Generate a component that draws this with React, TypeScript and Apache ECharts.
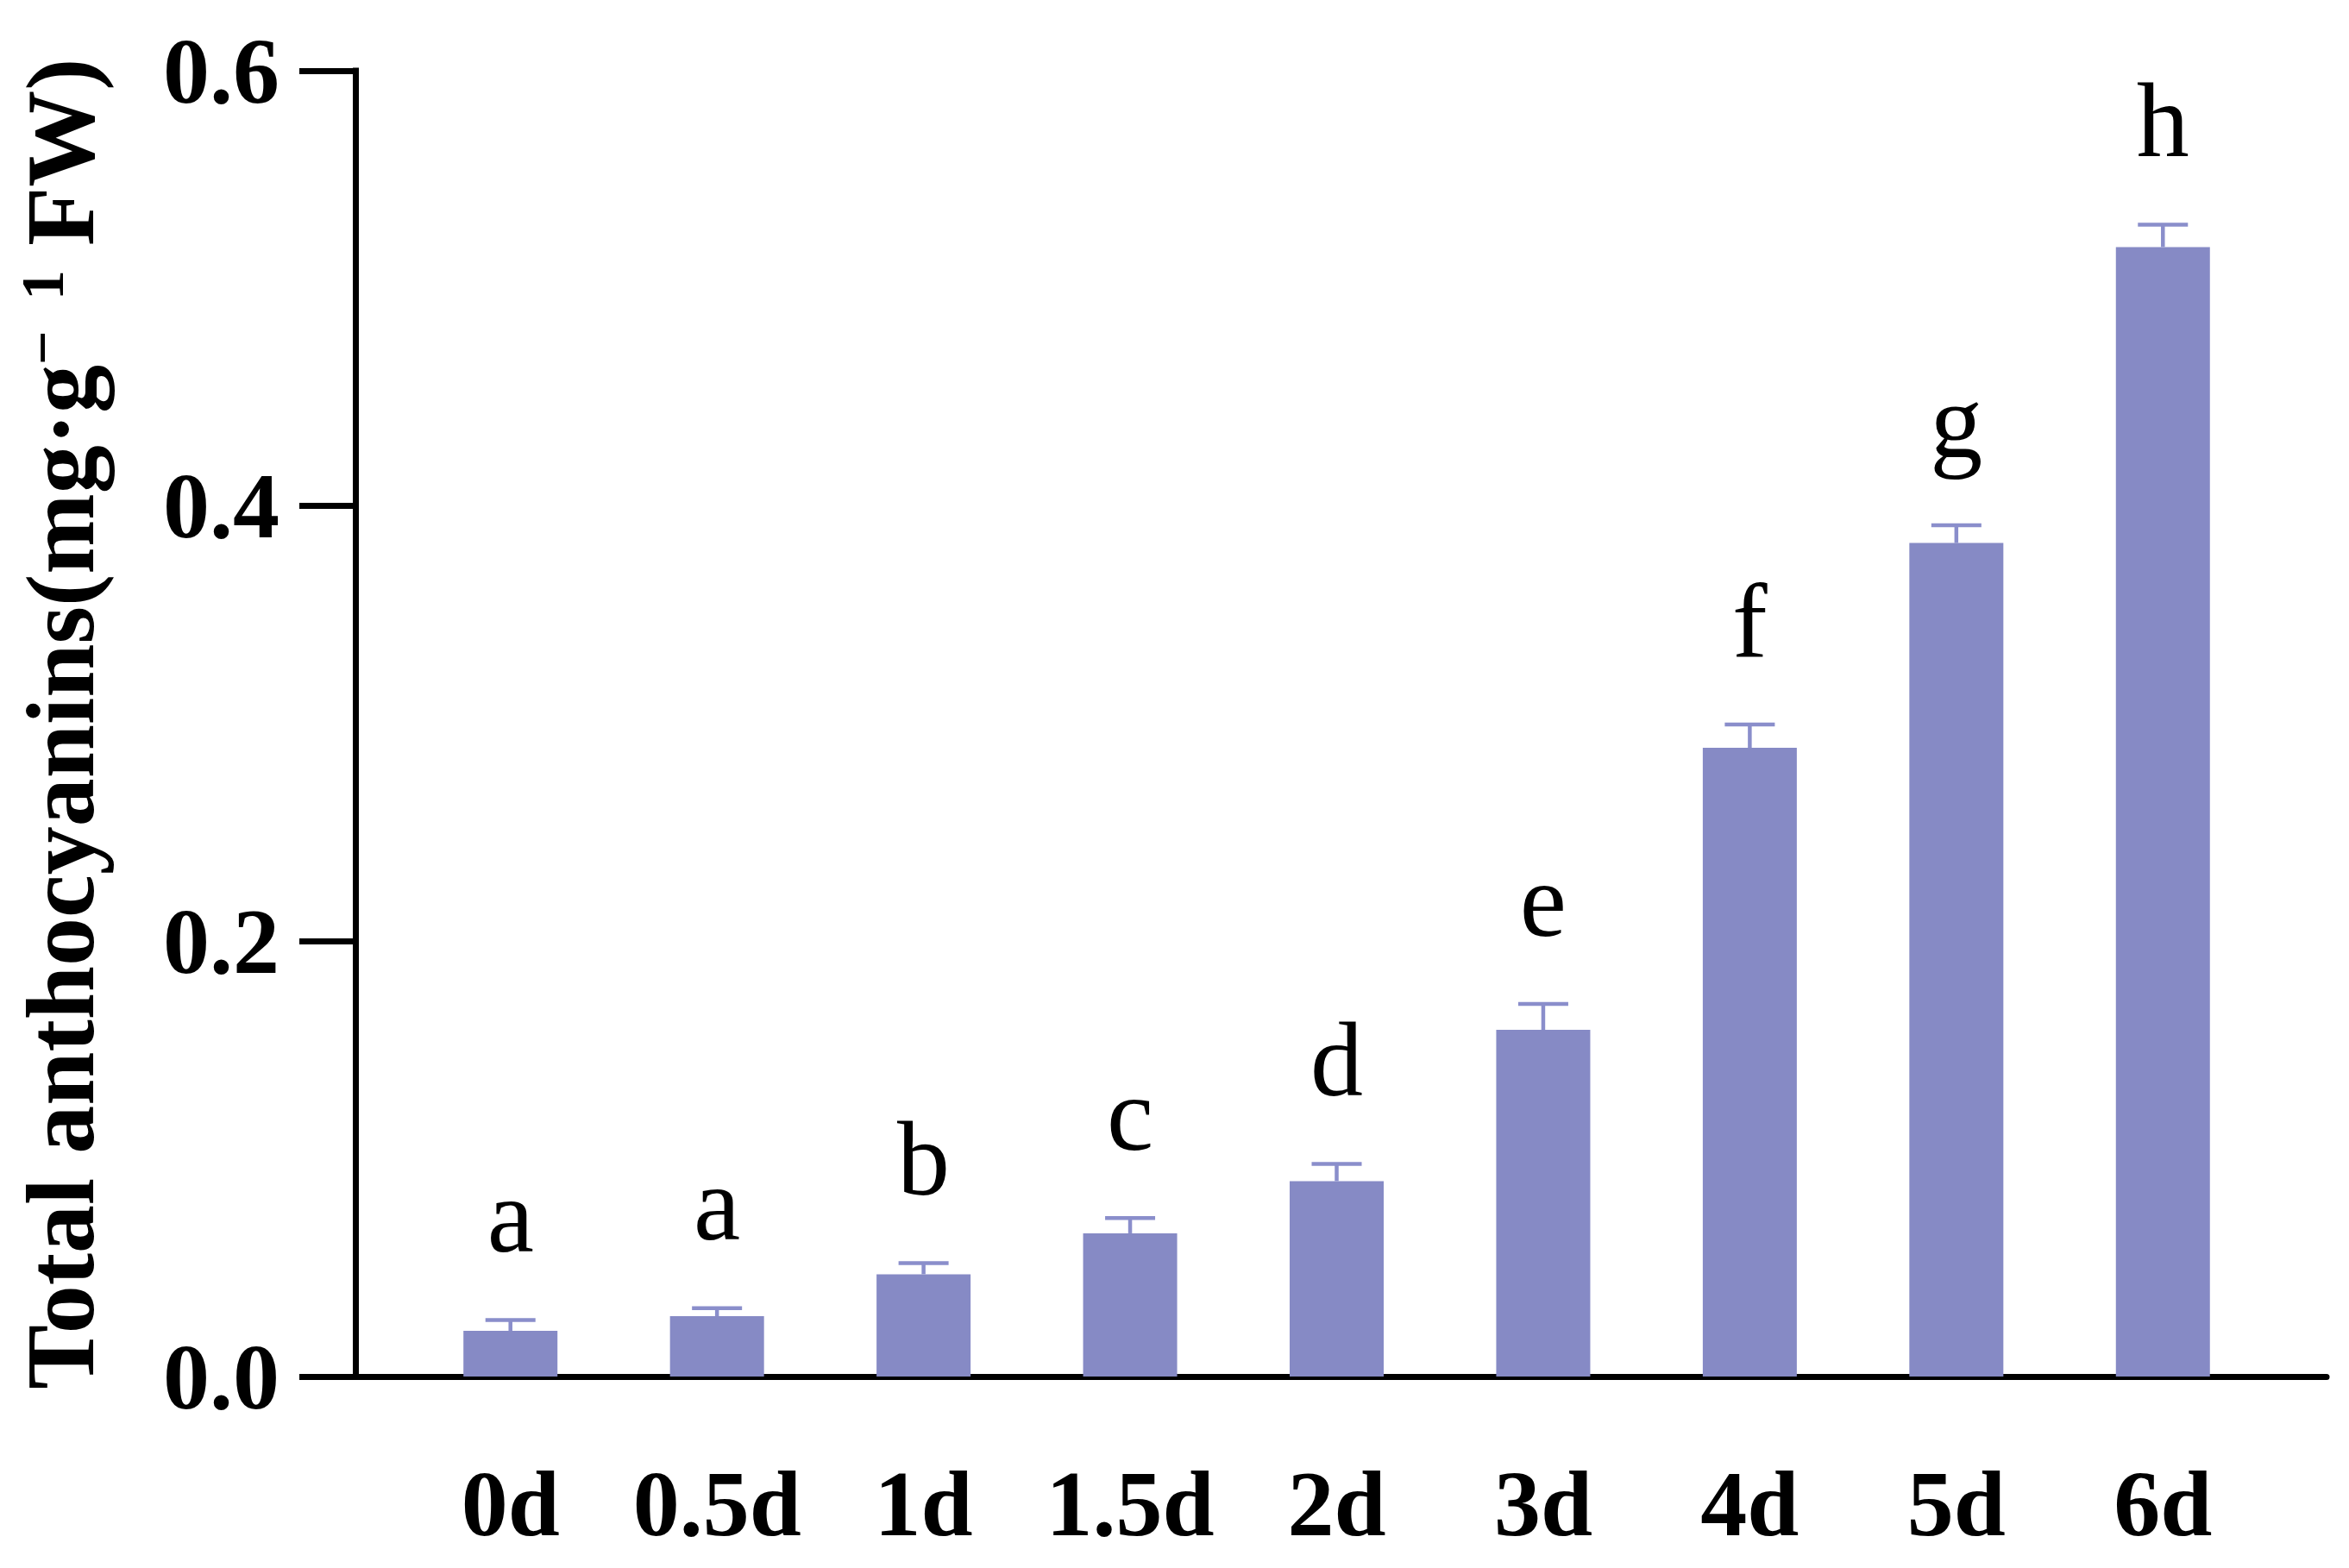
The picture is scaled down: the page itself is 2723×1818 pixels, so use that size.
import React, { useEffect, useRef } from 'react';
import * as echarts from 'echarts';

const categories = ['0d', '0.5d', '1d', '1.5d', '2d', '3d', '4d', '5d', '6d'];
const means = [0.021, 0.0277, 0.047, 0.0658, 0.0898, 0.1593, 0.2889, 0.383, 0.519];
const errors = [0.005, 0.0037, 0.0051, 0.007, 0.0079, 0.0119, 0.0107, 0.0081, 0.0103];
const letters = ['a', 'a', 'b', 'c', 'd', 'e', 'f', 'g', 'h'];
const yTicks = [0, 0.2, 0.4, 0.6];

const W = 2723;
const H = 1818;
const FONT = "'Liberation Serif', 'Times New Roman', Times, serif";
const BAR = '#868AC5';
const ERR = '#8A8ECB';

export default function App() {
  const ref = useRef<HTMLDivElement>(null);
  useEffect(() => {
    if (!ref.current) return;
    const chart = echarts.init(ref.current, undefined, { renderer: 'svg', width: W, height: H });
    const option: any = {
      animation: false,
      backgroundColor: '#ffffff',
      grid: [
        { left: 472, top: 82, width: 2155, height: 1514 },
        { left: 412, top: 82, width: 2285, height: 1514 },
      ],
      xAxis: [
        {
          type: 'category',
          gridIndex: 0,
          data: categories,
          axisLine: { show: false },
          axisTick: { show: false },
          axisLabel: {
            interval: 0,
            margin: 93,
            fontFamily: FONT,
            fontWeight: 'bold',
            fontSize: 108,
            color: '#000',
          },
        },
        {
          type: 'value',
          gridIndex: 1,
          min: 0,
          max: 1,
          axisLine: { show: true, lineStyle: { color: '#000', width: 7 } },
          axisTick: { show: false },
          axisLabel: { show: false },
          splitLine: { show: false },
        },
      ],
      yAxis: [
        {
          type: 'value',
          gridIndex: 0,
          min: yTicks[0],
          max: yTicks[yTicks.length - 1],
          interval: yTicks[1] - yTicks[0],
          offset: 60,
          axisLine: { show: true, lineStyle: { color: '#000', width: 7, cap: 'square' } },
          axisTick: { show: true, length: 65, lineStyle: { color: '#000', width: 7 } },
          splitLine: { show: false },
          axisLabel: {
            margin: 88,
            formatter: (v: number) => v.toFixed(1),
            fontFamily: FONT,
            fontWeight: 'bold',
            fontSize: 108,
            color: '#000',
          },
          name: '{m|Total anthocyanins(mg·g}{s|−  1}{m| FW)}',
          nameLocation: 'middle',
          nameRotate: 90,
          nameGap: 286,
          nameTextStyle: {
            rich: {
              m: { fontFamily: FONT, fontWeight: 'bold', fontSize: 112, color: '#000' },
              s: { fontFamily: FONT, fontWeight: 'bold', fontSize: 70, color: '#000', verticalAlign: 'top' },
            },
          },
        },
        { type: 'value', gridIndex: 1, show: false, min: 0, max: 1 },
      ],
      series: [
        {
          type: 'bar',
          xAxisIndex: 0,
          yAxisIndex: 0,
          data: means,
          barWidth: 109,
          itemStyle: { color: BAR },
        },
        {
          type: 'custom',
          xAxisIndex: 0,
          yAxisIndex: 0,
          z: 3,
          data: means.map((m, i) => [i, m, errors[i]]),
          renderItem: (params: any, api: any) => {
            const i = api.value(0);
            const m = api.value(1);
            const e = api.value(2);
            const base = api.coord([i, m]);
            const top = api.coord([i, m + e]);
            const half = 29;
            return {
              type: 'group',
              children: [
                {
                  type: 'line',
                  shape: { x1: base[0], y1: base[1], x2: top[0], y2: top[1] },
                  style: { stroke: ERR, lineWidth: 4.5 },
                },
                {
                  type: 'line',
                  shape: { x1: top[0] - half, y1: top[1], x2: top[0] + half, y2: top[1] },
                  style: { stroke: ERR, lineWidth: 4.5 },
                },
                {
                  type: 'text',
                  x: top[0],
                  y: top[1] - 121,
                  style: {
                    text: letters[params.dataIndex],
                    fontFamily: FONT,
                    fontSize: 122,
                    fill: '#000',
                    align: 'center',
                    verticalAlign: 'middle',
                  },
                },
              ],
            };
          },
        },
      ],
    };
    chart.setOption(option);
    return () => chart.dispose();
  }, []);
  return (
    <div
      ref={ref}
      style={{ position: 'fixed', left: 0, top: 0, width: W, height: H, background: '#fff' }}
    />
  );
}
